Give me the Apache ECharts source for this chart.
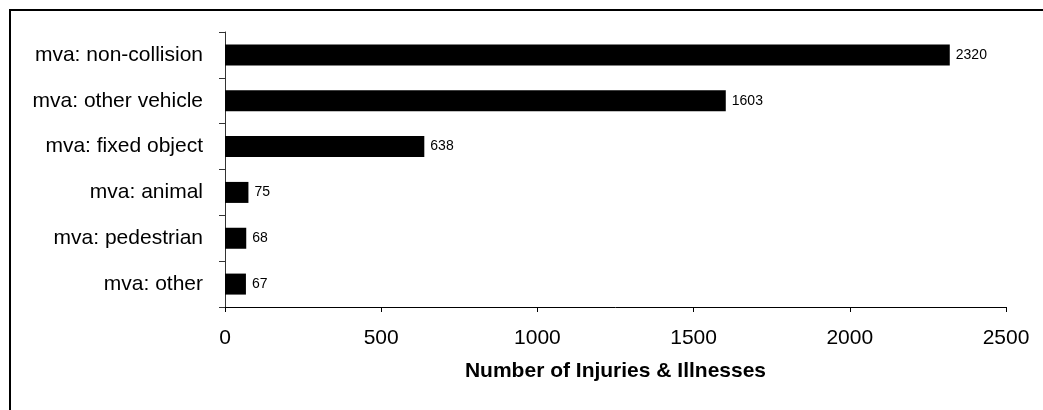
<!DOCTYPE html>
<html>
<head>
<meta charset="utf-8">
<script src="https://cdn.jsdelivr.net/npm/echarts@6/dist/echarts.min.js"></script>
<style>
  html, body { margin: 0; padding: 0; background: #fff; }
  #chart { width: 1043px; height: 410px; }
</style>
</head>
<body>
<div id="chart"></div>
<script>
const categories = ['mva: non-collision', 'mva: other vehicle', 'mva: fixed object', 'mva: animal', 'mva: pedestrian', 'mva: other'];
const values = [2320, 1603, 638, 75, 68, 67];
const xTicks = [0, 500, 1000, 1500, 2000, 2500];
const xTitle = 'Number of Injuries & Illnesses';

const FONT = '"Liberation Sans", Arial, sans-serif';
const chart = echarts.init(document.getElementById('chart'), null, { renderer: 'canvas' });
chart.setOption({
  animation: false,
  backgroundColor: '#fff',
  textStyle: { fontFamily: FONT, color: '#000' },
  graphic: [{
    type: 'rect',
    shape: { x: 10, y: 10, width: 1200, height: 600 },
    style: { fill: 'none', stroke: '#000', lineWidth: 2 },
    silent: true
  }],
  grid: { left: 225, right: 37, top: 32, bottom: 103, containLabel: false },
  xAxis: {
    type: 'value',
    min: xTicks[0],
    max: xTicks[xTicks.length - 1],
    interval: xTicks[1] - xTicks[0],
    name: xTitle,
    nameLocation: 'middle',
    nameGap: 54,
    nameTextStyle: { fontFamily: FONT, fontSize: 21, fontWeight: 'bold', color: '#000' },
    axisLine: { show: true, lineStyle: { color: '#000', width: 1 } },
    axisTick: { show: true, inside: false, length: 5, lineStyle: { color: '#000' } },
    axisLabel: { fontFamily: FONT, fontSize: 21, color: '#000', margin: 21, formatter: v => String(v) },
    splitLine: { show: false }
  },
  yAxis: {
    type: 'category',
    data: categories,
    inverse: true,
    axisLine: { show: true, lineStyle: { color: '#333', width: 1 } },
    axisTick: { show: true, inside: false, length: 6, lineStyle: { color: '#333' } },
    axisLabel: { fontFamily: FONT, fontSize: 21, color: '#000', margin: 22 },
    splitLine: { show: false }
  },
  series: [{
    type: 'bar',
    data: values,
    barWidth: 21,
    itemStyle: { color: '#000' },
    label: {
      show: true,
      position: 'right',
      distance: 6,
      fontFamily: FONT,
      fontSize: 14,
      color: '#000',
      formatter: p => String(p.value)
    }
  }]
});
</script>
</body>
</html>
